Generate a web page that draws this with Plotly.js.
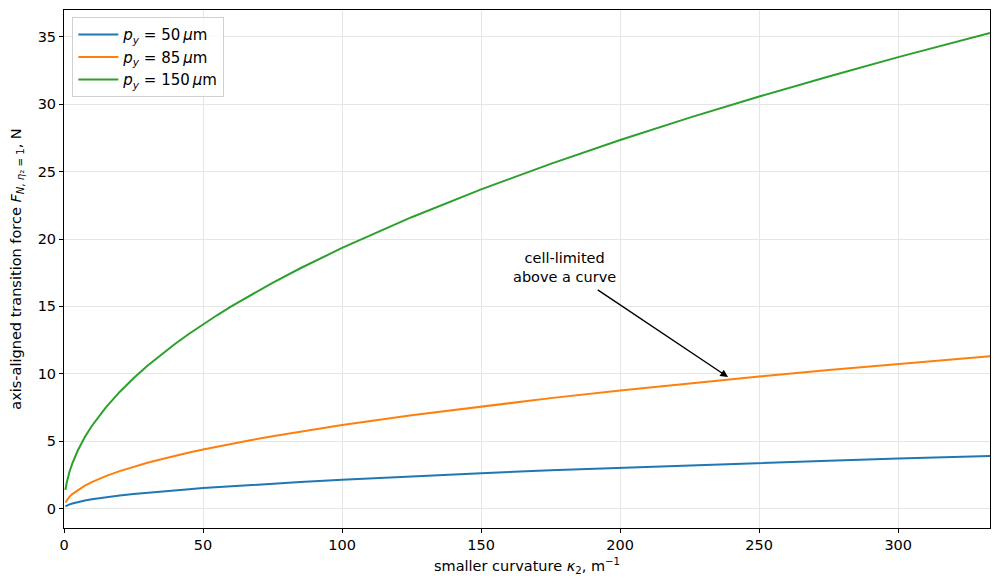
<!DOCTYPE html>
<html>
<head>
<meta charset="utf-8">
<script src="https://cdn.plot.ly/plotly-3.0.1.min.js"></script>
<style>
  html, body { margin: 0; padding: 0; background: #fff; }
  #chart { width: 1000px; height: 585px; }
</style>
</head>
<body>
<div id="chart"></div>
<script>
let kappa = [0.5, 1, 2, 3, 5, 7.5, 10, 15, 20, 25, 30, 35, 40, 45, 50, 55, 60, 67, 75, 85,
             100, 125, 150, 175, 200, 225, 250, 275, 300, 333];

// transition force, N, for each pitch
let force50 = [0.15, 0.21, 0.30, 0.37, 0.48, 0.59, 0.68, 0.83, 0.96, 1.07, 1.17, 1.26, 1.35, 1.43, 1.51,
               1.58, 1.66, 1.75, 1.85, 1.97,
               2.14, 2.39, 2.62, 2.83, 3.02, 3.21, 3.38, 3.54, 3.70, 3.90];
let force85 = [0.44, 0.62, 0.88, 1.07, 1.38, 1.70, 1.96, 2.40, 2.77, 3.10, 3.39, 3.66, 3.92, 4.15, 4.38,
               4.59, 4.80, 5.07, 5.36, 5.71,
               6.19, 6.92, 7.58, 8.19, 8.75, 9.29, 9.79, 10.27, 10.72, 11.30];
let force150 = [1.37, 1.93, 2.74, 3.35, 4.32, 5.30, 6.12, 7.49, 8.65, 9.67, 10.59, 11.44, 12.23, 12.97, 13.68,
                14.34, 14.98, 15.83, 16.75, 17.83,
                19.34, 21.62, 23.69, 25.58, 27.35, 29.01, 30.58, 32.07, 33.50, 35.29];

let seriesNames = ['<i>p</i><sub><i>y</i></sub> = 50\u2009<i>μ</i>m',
                   '<i>p</i><sub><i>y</i></sub> = 85\u2009<i>μ</i>m',
                   '<i>p</i><sub><i>y</i></sub> = 150\u2009<i>μ</i>m'];
let seriesColors = ['#1f77b4', '#ff7f0e', '#2ca02c'];

let xTicks = [0, 50, 100, 150, 200, 250, 300];
let yTicks = [0, 5, 10, 15, 20, 25, 30, 35];

let font = { family: 'DejaVu Sans, sans-serif', size: 14.5, color: '#000' };

let traces = [force50, force85, force150].map((f, i) => ({
  x: kappa,
  y: f,
  name: seriesNames[i],
  mode: 'lines',
  line: { color: seriesColors[i], width: 2 }
}));

let axisStyle = {
  showline: true,
  linecolor: '#000',
  linewidth: 1,
  mirror: true,
  ticks: 'outside',
  ticklen: 4,
  tickwidth: 1,
  tickcolor: '#000',
  showgrid: true,
  gridcolor: '#e6e6e6',
  gridwidth: 1,
  zeroline: false,
  tickfont: font
};

let layout = {
  width: 1000,
  height: 585,
  margin: { l: 64, r: 10, t: 10, b: 57 },
  paper_bgcolor: '#fff',
  plot_bgcolor: '#fff',
  font: font,
  showlegend: true,
  legend: {
    x: 0.009, y: 0.986, xanchor: 'left', yanchor: 'top',
    bgcolor: 'rgba(255,255,255,0.8)',
    bordercolor: '#d0d0d0', borderwidth: 1,
    font: { family: 'DejaVu Sans, sans-serif', size: 15, color: '#000' },
    itemwidth: 40
  },
  xaxis: Object.assign({}, axisStyle, {
    range: [0, 333],
    tickvals: xTicks,
    title: { text: 'smaller curvature <i>κ</i><sub>2</sub>, m<sup>−1</sup>', font: font, standoff: 8 }
  }),
  yaxis: Object.assign({}, axisStyle, {
    range: [-1.45, 37],
    tickvals: yTicks,
    title: { text: 'axis-aligned transition force <i>F</i><sub><i>N</i>, <i>η</i>₂ = 1</sub>, N', font: font, standoff: 12 }
  }),
  annotations: [
    {
      x: 180, y: 17.9, xref: 'x', yref: 'y',
      text: 'cell-limited<br>above a curve',
      showarrow: false,
      font: font,
      align: 'center'
    },
    {
      x: 238.8, y: 9.75, xref: 'x', yref: 'y',
      ax: 191.4, ay: 16.3, axref: 'x', ayref: 'y',
      text: '',
      showarrow: true,
      arrowhead: 2,
      arrowsize: 1.1,
      arrowwidth: 1.4,
      arrowcolor: '#000',
      standoff: 0
    }
  ]
};

Plotly.newPlot('chart', traces, layout, { displayModeBar: false, staticPlot: true });
</script>
</body>
</html>
